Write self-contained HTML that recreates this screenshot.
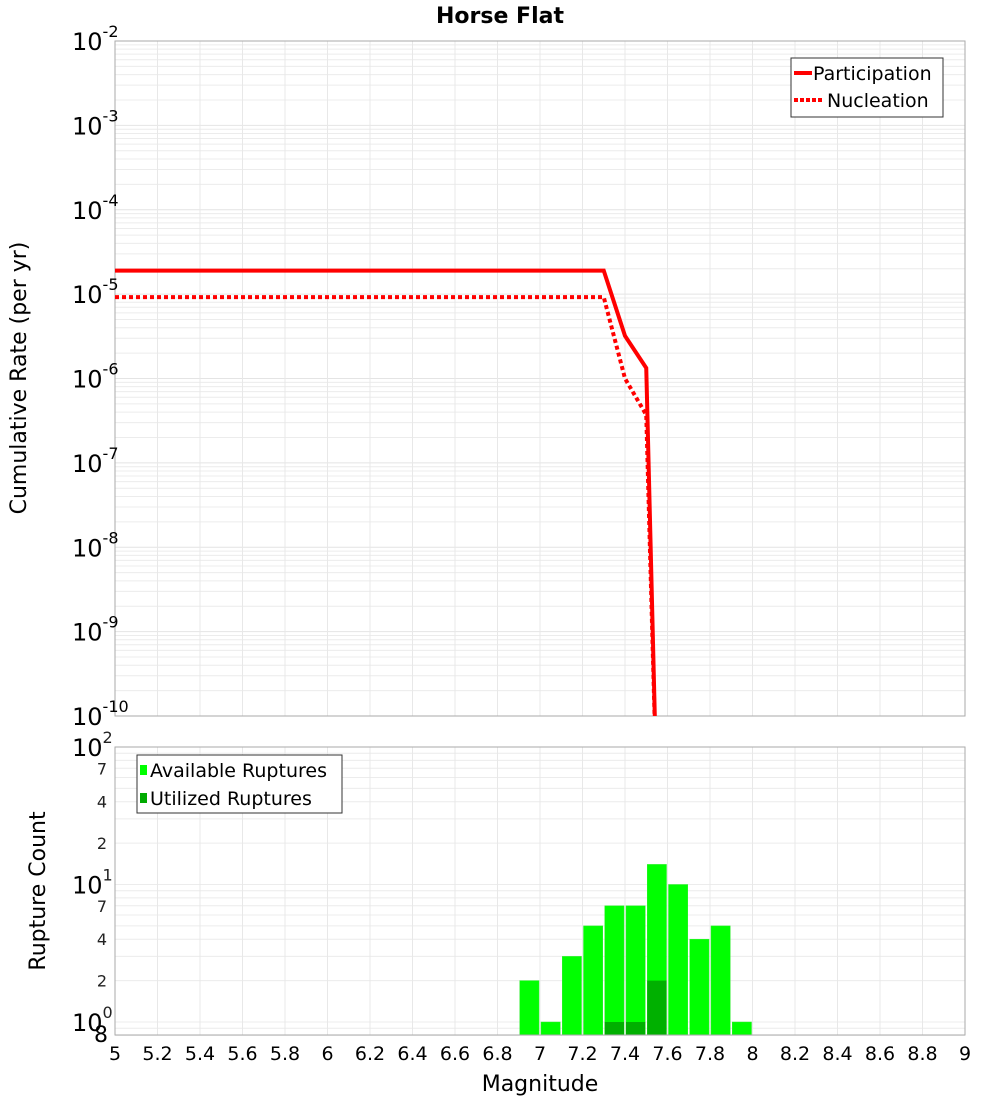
<!DOCTYPE html>
<html><head><meta charset="utf-8"><style>
body{margin:0;background:#fff;font-family:"Liberation Sans","DejaVu Sans",sans-serif}
svg text{font-family:"DejaVu Sans","Liberation Sans",sans-serif}
</style></head><body>
<svg id="c" width="1000" height="1100" xmlns="http://www.w3.org/2000/svg"></svg>
<script>
const mags=[5,7.3,7.4,7.5,7.55];
const partRates=[1.9e-5,1.9e-5,3.2e-6,1.33e-6,1e-11];
const nuclRates=[9.2e-6,9.2e-6,1.0e-6,3.7e-7,1e-11];
const binCenters=[6.95,7.05,7.15,7.25,7.35,7.45,7.55,7.65,7.75,7.85,7.95];
const availCounts=[2,1,3,5,7,7,14,10,4,5,1];
const utilBins=[7.35,7.45,7.55];
const utilCounts=[1,1,2];
const xTicks=[5,5.2,5.4,5.6,5.8,6,6.2,6.4,6.6,6.8,7,7.2,7.4,7.6,7.8,8,8.2,8.4,8.6,8.8,9];
const topExps=[-2,-3,-4,-5,-6,-7,-8,-9,-10];

const NS='http://www.w3.org/2000/svg';
const svg=document.getElementById('c');
function el(t,a,p){const e=document.createElementNS(NS,t);for(const k in a)e.setAttribute(k,a[k]);(p||svg).appendChild(e);return e;}
const X0=115,X1=965;
const x=m=>X0+(m-5)/4*(X1-X0);
const T0=41,T1=716;
const yT=v=>T0+(-2-Math.log10(v))*(T1-T0)/8;
const B0=747,B1=1035,BD=137.5;
const yB=v=>1022-Math.log10(v)*BD;

// top grid
const gT=el('g',{});

for(let e=-10;e<-2;e++)for(let k=1;k<10;k++){const y=yT(k*Math.pow(10,e));if(y<T0||y>T1)continue;el('line',{x1:X0,x2:X1,y1:y,y2:y,stroke:k==1?'#e4e4e4':'#ececec','stroke-width':1},gT);}
xTicks.forEach(t=>{el('line',{x1:x(t),x2:x(t),y1:T0,y2:T1,stroke:'#e8e8e8'},gT);});
const r1=el('rect',{x:X0,y:T0,width:X1-X0,height:T1-T0,fill:'none',stroke:'#aaa'});

// bottom grid
const gB=el('g',{});

[0.8,0.9,1,2,3,4,5,6,7,8,9,10,20,30,40,50,60,70,80,90,100].forEach(v=>{const y=yB(v);el('line',{x1:X0,x2:X1,y1:y,y2:y,stroke:'#ececec'},gB);});
xTicks.forEach(t=>{el('line',{x1:x(t),x2:x(t),y1:B0,y2:B1,stroke:'#e8e8e8'},gB);});

// top lines
const clip=el('clipPath',{id:'cp'});el('rect',{x:X0,y:T0,width:X1-X0,height:T1-T0},clip);
const pp=mags.map((m,i)=>x(m)+','+yT(partRates[i])).join(' ');
const np=mags.map((m,i)=>x(m)+','+yT(nuclRates[i])).join(' ');
const l1=el('polyline',{points:pp,fill:'none',stroke:'#f00','stroke-width':4,'clip-path':'url(#cp)'});

const l2=el('polyline',{points:np,fill:'none',stroke:'#f00','stroke-width':4,'stroke-dasharray':'4 3','clip-path':'url(#cp)'});


// bars
const bw=(x(5.1)-x(5))-2;
binCenters.forEach((c,i)=>{const y=yB(availCounts[i]);const b=el('rect',{x:x(c)-bw/2,y:y,width:bw,height:B1-y,fill:'#00ff00',stroke:'#33ee33','stroke-width':0.5});
});
utilBins.forEach((c,i)=>{const y=yB(utilCounts[i]);const b=el('rect',{x:x(c)-bw/2,y:y,width:bw,height:B1-y,fill:'#00b000'});
});
const r2=el('rect',{x:X0,y:B0,width:X1-X0,height:B1-B0,fill:'none',stroke:'#aaa'});


// top y tick labels
topExps.forEach(e=>{const y=yT(Math.pow(10,e));const t=el('text',{x:72,y:y+9,'font-size':24,fill:'#000'});

t.textContent='10';const s=el('tspan',{'font-size':16,dy:-13},t);s.textContent=String(e);});
// bottom y tick labels
[[100,'2'],[10,'1'],[1,'0']].forEach(([v,e])=>{const y=yB(v);const t=el('text',{x:72,y:y+9,'font-size':24,fill:'#000'});

t.textContent='10';const s=el('tspan',{'font-size':16,dy:-13,fill:'#222'},t);s.textContent=e;});
[[70,'7'],[40,'4'],[20,'2'],[7,'7'],[4,'4'],[2,'2']].forEach(([v,l])=>{const t=el('text',{x:107,y:yB(v)+6,'font-size':16,'text-anchor':'end',fill:'#222'});
t.textContent=l;});
{const t=el('text',{x:108,y:1042,'font-size':22,'text-anchor':'end'});t.textContent='8';}
// x tick labels
xTicks.forEach(v=>{const t=el('text',{x:x(v),y:1060,'font-size':19,'text-anchor':'middle'});
t.textContent=String(v);});

// titles
function txt(s,a,n){const t=el('text',a);t.textContent=s;return t;}
txt('Horse Flat',{x:500,y:23,'font-size':22,'font-weight':'bold','text-anchor':'middle'},'chart-title');
txt('Cumulative Rate (per yr)',{x:26,y:378,'font-size':22,'text-anchor':'middle',transform:'rotate(-90 26 378)'},'top-y-axis-title');
txt('Rupture Count',{x:45,y:891,'font-size':22,'text-anchor':'middle',transform:'rotate(-90 45 891)'},'bottom-y-axis-title');
txt('Magnitude',{x:540,y:1091,'font-size':22,'text-anchor':'middle'},'x-axis-title');

// legends
const lg1=el('g',{});
el('rect',{x:791,y:58,width:152,height:59,fill:'#fff',stroke:'#333'},lg1);
el('line',{x1:794,x2:812,y1:73,y2:73,stroke:'#f00','stroke-width':4},lg1);
el('line',{x1:794,x2:822,y1:100,y2:100,stroke:'#f00','stroke-width':4,'stroke-dasharray':'4 2'},lg1);
const a1=el('text',{x:813,y:80,'font-size':19},lg1);a1.textContent='Participation';
const a2=el('text',{x:827,y:107,'font-size':19},lg1);a2.textContent='Nucleation';
const lg2=el('g',{});
el('rect',{x:137,y:755,width:205,height:58,fill:'#fff',stroke:'#333'},lg2);
el('rect',{x:140,y:765,width:7,height:10,fill:'#00ff00'},lg2);
el('rect',{x:140,y:793,width:7,height:10,fill:'#00aa00'},lg2);
const b1=el('text',{x:150,y:777,'font-size':19},lg2);b1.textContent='Available Ruptures';
const b2=el('text',{x:150,y:805,'font-size':19},lg2);b2.textContent='Utilized Ruptures';
</script>
</body></html>
